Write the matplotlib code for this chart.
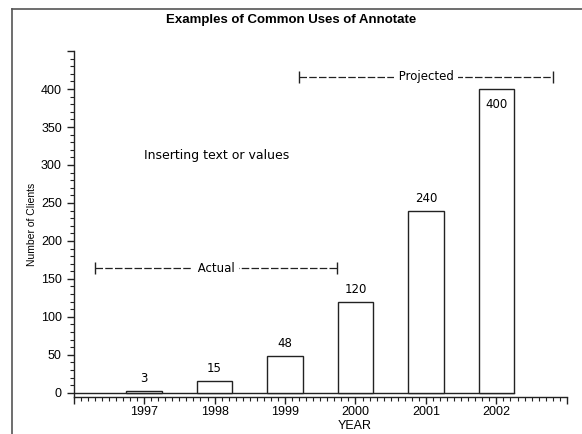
import matplotlib
matplotlib.use('Agg')
import numpy as np
import matplotlib.pyplot as plt
from matplotlib.lines import Line2D
from matplotlib.ticker import MultipleLocator, FixedLocator

# data
years = [1997, 1998, 1999, 2000, 2001, 2002]
clients = [3, 15, 48, 120, 240, 400]
year_labels = ['1997', '1998', '1999', '2000', '2001', '2002']

# bracketed annotations: (label, x start, x end, y)
brackets = [('Actual', 1996.30, 1999.74, 164),
            ('Projected', 1999.20, 2002.81, 416)]
note_text = 'Inserting text or values'
note_x, note_y = 1997.0, 313

plt.rcParams['font.family'] = ['Liberation Sans', 'DejaVu Sans']

fig = plt.figure(figsize=(5.82, 4.34), dpi=100)
ax = fig.add_axes([0.1265, 0.0853, 0.8475, 0.797])

ax.bar(years, clients, width=0.5, color='white', edgecolor='#222222',
       linewidth=1.0, zorder=3)
# zero line under the bars
ax.plot([1996, years[-1] + 0.25], [0, 0], color='#222222', lw=1.0, zorder=2)

# value labels
for x, v in zip(years, clients):
    if v == max(clients):
        ax.annotate(str(v), (x, v), xytext=(0, -11), textcoords='offset points',
                    ha='center', va='center', fontsize=8.5, family='DejaVu Sans',
                    zorder=4)
    else:
        ax.annotate(str(v), (x, v), xytext=(0, 9), textcoords='offset points',
                    ha='center', va='center', fontsize=8.5, family='DejaVu Sans',
                    zorder=4)

ax.text(note_x, note_y, note_text, ha='left', va='center', fontsize=9,
        family='DejaVu Sans')

# |----- label -----| brackets
for lab, x0, x1, y in brackets:
    ax.plot([x0, x1], [y, y], color='#222222', lw=0.9, dashes=(6, 1.8))
    ax.plot([x0, x1], [y, y], ls='none', marker='|', ms=9, mew=1.0,
            color='#222222')
    ax.text((x0 + x1) / 2, y, ' ' + lab + ' ', ha='center', va='center',
            fontsize=8.5, family='DejaVu Sans',
            bbox=dict(facecolor='white', edgecolor='none', pad=0.5))

ax.set_xlim(1996, 2003)
ax.set_ylim(-5.5, 450)

ax.xaxis.set_major_locator(FixedLocator(np.arange(1996, 2004)))
ax.set_xticklabels([''] + year_labels + [''])
ax.xaxis.set_minor_locator(MultipleLocator(0.1))
ax.yaxis.set_major_locator(FixedLocator(np.arange(0, 451, 50)))
ax.set_yticklabels([str(v) for v in range(0, 401, 50)] + [''])
ax.yaxis.set_minor_locator(FixedLocator(np.arange(0, 451, 10)))

ax.spines['top'].set_visible(False)
ax.spines['right'].set_visible(False)
ax.spines['left'].set_bounds(-5.5, 450)
for s in ('left', 'bottom'):
    ax.spines[s].set_linewidth(1.0)
    ax.spines[s].set_color('#222222')

ax.tick_params(which='major', length=5, width=1.0, labelsize=9, color='#222222')
ax.tick_params(which='minor', length=3, width=0.8, color='#222222')
ax.tick_params(axis='x', which='major', pad=1.5)

fig.text(0.5, (434 - 20) / 434, 'Examples of Common Uses of Annotate',
         ha='center', va='center', fontsize=9.5, fontweight='bold')
fig.text(32 / 582, 0.484, 'Number of Clients', rotation=90, ha='center',
         va='center', fontsize=7.5)
fig.text(355 / 582, (434 - 426) / 434, 'YEAR', ha='center', va='center',
         fontsize=9)

# page frame
fig.add_artist(Line2D([12 / 582, 12 / 582], [0, 1 - 9 / 434],
                      transform=fig.transFigure, color='#555555', lw=1.2))
fig.add_artist(Line2D([12 / 582, 1], [1 - 9 / 434, 1 - 9 / 434],
                      transform=fig.transFigure, color='#555555', lw=1.2))

fig.savefig('out.png', dpi=100)
